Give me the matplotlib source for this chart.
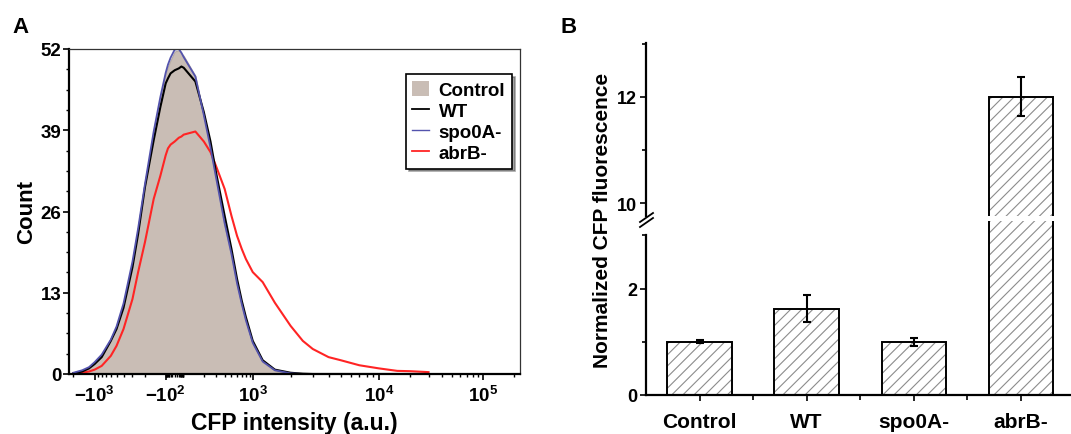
import numpy as np
import matplotlib
matplotlib.use("Agg")
import matplotlib.pyplot as plt
from matplotlib.patches import Patch
from matplotlib.lines import Line2D

plt.rcParams['font.family'] = 'Liberation Sans'
plt.rcParams['font.weight'] = 'bold'
plt.rcParams['mathtext.fontset'] = 'custom'
plt.rcParams['mathtext.rm'] = 'Liberation Sans:bold'
plt.rcParams['mathtext.it'] = 'Liberation Sans:bold'
plt.rcParams['mathtext.bf'] = 'Liberation Sans:bold'
plt.rcParams['hatch.linewidth'] = 0.8

# ---- panel A: CFP histograms (counts) ----
cfp = [-2000, -1500, -1200, -1000, -800, -600, -500, -400, -300, -250, -200, -150,
       -120, -100, -50, -20, 0, 20, 50, 100, 150, 200, 250, 300, 400, 500, 600, 700,
       800, 1000, 1200, 1500, 2000, 2500, 3000, 4000, 5000, 7000, 10000, 15000,
       20000, 30000]
count_control = [0.2, 0.5, 1.1, 1.9, 3.2, 5.6, 7.7, 11.4, 18.2, 23.5, 30.5, 39.0,
                 44.4, 48.1, 49.2, 50.2, 51.6, 51.8, 51.3, 50.9, 47.7, 41.3, 36.0, 31.2,
                 23.7, 18.8, 14.1, 10.9, 8.3, 4.8, 1.9, 0.5, 0.0, 0.0, 0.0, 0.0,
                 0.0, 0.0, 0.0, 0.0, 0.0, 0.0]
count_wt = [0.1, 0.4, 0.9, 1.6, 2.7, 5.3, 7.2, 10.6, 17.1, 22.4, 29.9, 37.4,
            42.7, 46.5, 47.3, 48.1, 48.6, 48.9, 49.2, 49.0, 46.8, 41.9, 37.2, 32.3,
            25.3, 20.0, 15.2, 11.7, 9.1, 5.3, 2.2, 0.7, 0.2, 0.05, 0.0, 0.0,
            0.0, 0.0, 0.0, 0.0, 0.0, 0.0]
count_spo0a = [0.2, 0.6, 1.1, 1.9, 3.1, 5.5, 7.6, 11.3, 18.0, 23.3, 30.4, 38.8,
               44.3, 48.2, 49.5, 50.6, 51.9, 52.0, 51.4, 50.7, 47.6, 41.4, 36.2, 31.5,
               24.1, 19.2, 14.5, 11.2, 8.6, 5.0, 2.0, 0.6, 0.1, 0.0, 0.0, 0.0,
               0.0, 0.0, 0.0, 0.0, 0.0, 0.0]
count_abrb = [0.1, 0.2, 0.4, 0.7, 1.3, 2.9, 4.5, 7.2, 12.0, 16.3, 21.1, 28.0,
              31.7, 35.0, 36.1, 36.7, 37.2, 37.8, 38.0, 38.3, 38.8, 37.2, 35.5, 33.3,
              29.6, 25.3, 22.1, 20.0, 18.4, 16.3, 14.7, 11.4, 7.7, 5.3, 4.0, 2.7,
              2.2, 1.4, 0.9, 0.5, 0.45, 0.3]

count_ticks = [0, 13, 26, 39, 52]
cfp_ticks = [-1e3, -1e2, 1e3, 1e4, 1e5]
cfp_ticklabels = ['$-10^{3}$', '$-10^{2}$', '$10^{3}$', '$10^{4}$', '$10^{5}$']

# ---- panel B: normalized fluorescence ----
groups = ['Control', 'WT', 'spo0A-', 'abrB-']
fluor = [1.0, 1.62, 1.0, 12.0]
fluor_err = [0.03, 0.25, 0.07, 0.37]

# biexponential-like display scale (FACS style)
ANCH_V = np.array([-1e8, -1e4, -1e3, -1e2, 0, 1e2, 1e3, 1e4, 1e5, 1e8])
ANCH_P = np.array([-260, 24, 95, 166, 175, 184, 253, 379, 483, 795], float)


def _s(x):
    x = np.asarray(x, float)
    return np.sign(x) * np.log10(1 + np.abs(x) / 10.0)


def _s_inv(s):
    s = np.asarray(s, float)
    return np.sign(s) * (10 ** np.abs(s) - 1) * 10.0


ANCH_S = _s(ANCH_V)


def fwd(x):
    return np.interp(_s(x), ANCH_S, ANCH_P)


def inv(p):
    return _s_inv(np.interp(p, ANCH_P, ANCH_S))


W, H = 1071, 435
fig = plt.figure(figsize=(W / 100, H / 100), dpi=100)


def px(x0, y0, w, h):
    return [x0 / W, 1 - (y0 + h) / H, w / W, h / H]


c_fill = '#c9bdb5'
c_blue = '#5353ad'
c_red = '#ff2424'

axA = fig.add_axes(px(69, 50, 451, 325))
axA.set_xscale('function', functions=(fwd, inv))
axA.fill_between(cfp, count_control, 0, color=c_fill, lw=0.8, edgecolor='#b5aaa3')
axA.plot(cfp, count_abrb, color=c_red, lw=1.5)
axA.plot(cfp, count_wt, color='black', lw=1.5)
axA.plot(cfp, count_spo0a, color=c_blue, lw=1.3)
axA.set_xlim(-2300, 227000)
axA.set_ylim(0, 52)

axA.set_yticks(count_ticks)
axA.set_yticks(np.arange(0, 52.1, 3.25), minor=True)
axA.set_xticks(cfp_ticks)
axA.set_xticklabels(cfp_ticklabels)
minor_x = ([-2000] + list(range(-900, -100, 100)) + list(range(-90, 100, 10)) +
           list(range(200, 1000, 100)) + list(range(2000, 10000, 1000)) +
           list(range(20000, 100000, 10000)) + [200000])
axA.set_xticks(minor_x, minor=True)
axA.tick_params(axis='both', which='major', direction='out', length=4.5, width=1.2,
                labelsize=13.5)
axA.tick_params(axis='both', which='minor', direction='out', length=2.5, width=1.0)
axA.tick_params(axis='y', which='major', pad=1)
axA.tick_params(axis='x', which='major', pad=3)
for side in ('left', 'bottom'):
    axA.spines[side].set_linewidth(1.6)
for side in ('top', 'right'):
    axA.spines[side].set_linewidth(0.9)
    axA.spines[side].set_color('#333333')

handles = [Patch(facecolor=c_fill, edgecolor='none', label='Control'),
           Line2D([], [], color='black', lw=1.3, label='WT'),
           Line2D([], [], color=c_blue, lw=1.0, label='spo0A-'),
           Line2D([], [], color=c_red, lw=1.3, label='abrB-')]
leg = axA.legend(handles=handles, loc='upper right', bbox_to_anchor=(0.982, 0.923),
                 fancybox=False, shadow=True, edgecolor='black', fontsize=13.5,
                 handlelength=0.9, handleheight=0.9, borderpad=0.35,
                 labelspacing=0.15, handletextpad=0.5, borderaxespad=0)
leg.get_frame().set_linewidth(1.2)

fig.text(27 / W, 1 - 212 / H, 'Count', rotation=90, ha='center', va='center',
         fontsize=16, fontweight='bold')
fig.text(294.5 / W, 1 - 430 / H, 'CFP intensity (a.u.)', ha='center', va='baseline',
         fontsize=16.5, fontweight='bold')
fig.text(12 / W, 1 - 33 / H, 'A', fontsize=16, fontweight='bold', va='baseline')
fig.text(560 / W, 1 - 33 / H, 'B', fontsize=16, fontweight='bold', va='baseline')

# ---- panel B with broken axis ----
pos = np.arange(len(groups))
axT = fig.add_axes(px(646, 44, 425, 173))
axB = fig.add_axes(px(646, 222, 425, 174))
for ax in (axT, axB):
    ax.bar(pos, fluor, width=0.6, color='white', edgecolor='#8c8c8c', hatch='///',
           linewidth=0)
    ax.bar(pos, fluor, width=0.6, fill=False, edgecolor='black', linewidth=1.4)
    ax.errorbar(pos, fluor, yerr=fluor_err, fmt='none', ecolor='black',
                elinewidth=1.5, capsize=3, capthick=1.5)
    ax.set_xlim(-0.5, 3.47)
    for side in ('top', 'right'):
        ax.spines[side].set_visible(False)
    ax.spines['left'].set_linewidth(1.6)
    ax.tick_params(axis='y', which='major', direction='out', length=4.5, width=1.2,
                   labelsize=13, pad=2)
    ax.tick_params(axis='y', which='minor', direction='out', length=3, width=1.2)

axT.set_ylim(9.756, 13.01)
axT.set_yticks([10, 12])
axT.set_yticks([11, 13], minor=True)
axT.spines['bottom'].set_visible(False)
axT.tick_params(axis='x', which='both', bottom=False, labelbottom=False)

axB.set_ylim(0, 3.27)
axB.set_yticks([0, 2])
axB.set_yticks([1, 3], minor=True)
axB.spines['left'].set_bounds(0, 3)
axB.spines['bottom'].set_linewidth(1.6)
axB.set_xticks(pos)
axB.set_xticklabels(groups)
axB.set_xticks(pos[:-1] + 0.5, minor=True)
axB.tick_params(axis='x', which='major', direction='out', length=4.5, width=1.2,
                labelsize=15, pad=8)
axB.tick_params(axis='x', which='minor', direction='out', length=3.5, width=1.2)

# break marks on the y axis
for dy in (0, 5):
    fig.add_artist(Line2D([640 / W, 653 / W], [1 - (223 + dy) / H, 1 - (214 + dy) / H],
                          color='black', lw=1.3, transform=fig.transFigure))

fig.text(602 / W, 1 - 220 / H, 'Normalized CFP fluorescence', rotation=90,
         ha='center', va='center', fontsize=15, fontweight='bold')

fig.savefig('out.png', dpi=100)
